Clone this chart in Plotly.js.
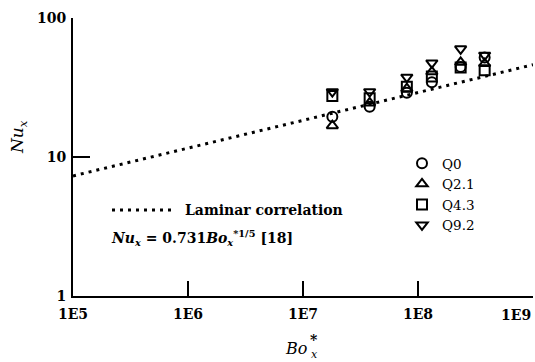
<!DOCTYPE html>
<html>
<head>
<meta charset="utf-8">
<script src="https://cdn.plot.ly/plotly-3.0.1.min.js"></script>
<style>html,body{margin:0;padding:0;background:#fff;}#chart{width:535px;height:362px;}</style>
</head>
<body>
<div id="chart"></div>
<script>
// Data
const boX = [1.8e7, 3.8e7, 8.0e7, 1.32e8, 2.35e8, 3.8e8];
const nuQ0   = [19.5, 23.0, 29.0, 34.5, 44.5, 52.0];
const nuQ21  = [16.8, 24.5, 31.0, 41.0, 48.0, 47.0];
const nuQ43  = [27.5, 26.5, 32.0, 38.0, 44.0, 42.0];
const nuQ92  = [29.5, 29.5, 37.5, 47.5, 60.0, 54.0];
const seriesNames = ['Q0', 'Q2.1', 'Q4.3', 'Q9.2'];
const corrX = [1e5, 1e9];
const corrY = [7.31, 46.1];
const xTickVals = [1e5, 1e6, 1e7, 1e8, 1e9];
const xTickText = ['1E5', '1E6', '1E7', '1E8', ''];
const lastXTick = '1E9';
const yTickVals = [1, 10, 100];
const yTickText = ['1', '10', '100'];

const FONT = 'DejaVu Serif, Liberation Serif, serif';
const symbols = ['circle-open', 'triangle-up-open', 'square-open', 'triangle-down-open'];
const series = [nuQ0, nuQ21, nuQ43, nuQ92];

const traces = [{
  x: corrX, y: corrY, mode: 'lines', showlegend: false,
  line: {color: '#000', width: 3, dash: '3px,5px'}, hoverinfo: 'skip'
}];
series.forEach((s, i) => {
  traces.push({
    x: boX, y: s, mode: 'markers', name: seriesNames[i],
    marker: {symbol: symbols[i], size: 10, color: '#000', line: {color: '#000', width: 2}},
    cliponaxis: false
  });
});

const PX = v => (v - 73) / 460;   // pixel x -> paper
const PY = v => (296 - v) / 278;  // pixel y -> paper
const txt = (text, x, y, size, extra) => Object.assign({
  xref: 'paper', yref: 'paper', x: PX(x), y: PY(y), xanchor: 'center', yanchor: 'middle',
  showarrow: false, text: text, font: {family: FONT, size: size, color: '#000'}
}, extra || {});

const layout = {
  width: 535, height: 362,
  margin: {l: 73, r: 2, t: 18, b: 66},
  paper_bgcolor: '#fff', plot_bgcolor: '#fff',
  showlegend: true,
  legend: {
    x: PX(402), xanchor: 'left', y: PY(148), yanchor: 'top',
    bgcolor: 'rgba(0,0,0,0)', font: {family: FONT, size: 13.5, color: '#000'},
    itemwidth: 30, tracegroupgap: 0
  },
  xaxis: {
    type: 'log', range: [5, 9.0002], showgrid: false, zeroline: false,
    showline: true, linecolor: '#000', linewidth: 2,
    ticks: 'inside', ticklen: 15, tickwidth: 2, tickcolor: '#000',
    tickvals: xTickVals, ticktext: xTickText, ticklabelstandoff: 4,
    tickfont: {family: FONT, size: 14, color: '#000', weight: 'bold'}
  },
  yaxis: {
    type: 'log', range: [0, 2], showgrid: false, zeroline: false,
    showline: true, linecolor: '#000', linewidth: 2,
    ticks: 'inside', ticklen: 17, tickwidth: 2, tickcolor: '#000',
    tickvals: yTickVals, ticktext: yTickText, ticklabelstandoff: 2,
    tickfont: {family: FONT, size: 14, color: '#000', weight: 'bold'}
  },
  shapes: [{
    type: 'line', xref: 'paper', yref: 'paper',
    x0: PX(112), x1: PX(176), y0: PY(210), y1: PY(210),
    line: {color: '#000', width: 3, dash: '3px,5px'}
  }],
  annotations: [
    txt('Laminar correlation', 183, 210, 14, {xanchor: 'left', font: {family: FONT, size: 14, color: '#000', weight: 'bold'}}),
    txt('<i>Nu<sub>x</sub></i> = 0.731<i>Bo<sub>x</sub></i><sup>*1/5</sup> [18]', 109, 238, 14,
        {xanchor: 'left', font: {family: FONT, size: 14, color: '#000', weight: 'bold'}}),
    txt(lastXTick, 533, 315, 14, {xanchor: 'right', font: {family: FONT, size: 14, color: '#000', weight: 'bold'}}),
    // axis titles
    txt('<i>Nu<sub>x</sub></i>', 18, 137, 17, {textangle: -90}),
    txt('<i>Bo</i>', 296, 348, 16),
    txt('*', 314, 340, 14, {font: {family: FONT, size: 14, color: '#000', weight: 'bold'}}),
    txt('<i>x</i>', 314, 354, 11)
  ]
};

Plotly.newPlot('chart', traces, layout, {staticPlot: true, displayModeBar: false});
</script>
</body>
</html>
